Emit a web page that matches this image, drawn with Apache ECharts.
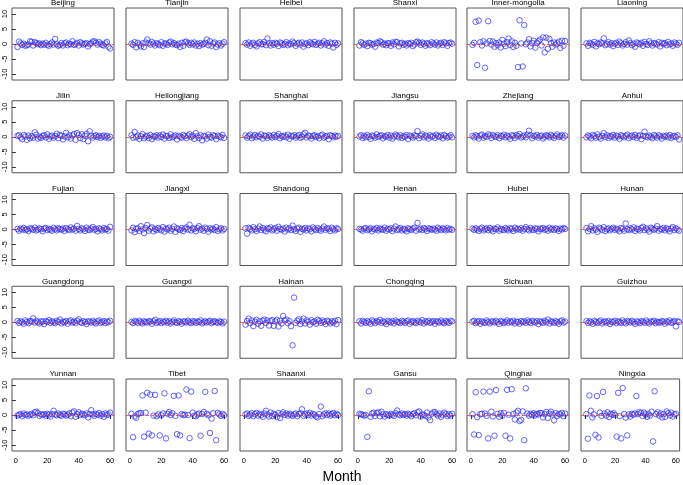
<!DOCTYPE html>
<html><head><meta charset="utf-8">
<script src="https://cdn.jsdelivr.net/npm/echarts@6/dist/echarts.min.js"></script>
<style>html,body{margin:0;padding:0;background:#fff}#c{width:683px;height:485px}</style>
</head><body><div id="c"></div>
<script>
var provinces = ["Beijing","Tianjin","Heibei","Shanxi","Inner-mongolia","Liaoning",
"Jilin","Heilongjiang","Shanghai","Jiangsu","Zhejiang","Anhui",
"Fujian","Jiangxi","Shandong","Henan","Hubei","Hunan",
"Guangdong","Guangxi","Hainan","Chongqing","Sichuan","Guizhou",
"Yunnan","Tibet","Shaanxi","Gansu","Qinghai","Ningxia"];
var xTicks = [0,20,40,60];
var yTicks = [-10,-5,0,5,10];

var beijing = [-1.0,0.8,0.2,-0.3,0.1,-0.6,-0.4,-0.2,0.9,0.7,-0.5,0.6,0.3,-0.1,0.2,-0.4,0.1,-0.2,0.4,-0.3,-0.6,0.0,0.5,-0.2,1.7,-0.1,-0.6,-0.3,0.3,-0.5,0.2,0.5,-0.4,0.1,-0.1,0.9,-0.3,0.0,0.4,-0.5,0.6,0.2,-0.2,0.1,0.3,-0.8,0.0,0.2,0.8,0.9,0.4,-0.2,0.6,0.1,-0.3,-0.5,0.2,0.7,-0.9,-1.5];
var tianjin = [0.1,-0.3,0.6,-1.1,0.4,-0.2,-0.8,0.2,-1.0,0.5,1.5,0.3,-0.2,0.7,0.1,-0.5,0.3,0.0,-0.4,0.6,-0.6,0.2,0.1,-0.3,0.5,0.8,-0.1,0.3,-0.2,-0.4,0.1,-1.0,0.4,-0.6,0.6,0.8,0.2,-0.3,0.4,-0.1,0.5,-0.5,0.1,-0.7,0.3,-0.2,0.0,0.4,1.5,-0.4,0.9,-0.6,0.2,0.5,-1.0,-0.2,0.3,-0.5,0.1,0.6];
var heibei = [0.3,-0.2,0.5,-0.6,0.1,0.4,-0.3,-0.8,0.2,0.6,-0.1,0.0,0.7,-0.4,1.8,0.2,-0.5,0.3,-0.2,0.4,0.1,-0.7,0.5,0.2,-0.3,0.0,0.6,-0.4,0.2,-0.1,0.8,0.3,-0.6,0.1,0.4,-0.2,0.5,-0.9,0.0,0.3,-0.4,0.6,0.2,-0.1,0.7,-0.3,0.1,0.4,-0.5,0.2,0.9,-0.2,0.3,-0.6,0.5,0.1,-1.2,0.4,-0.3,0.2];
var shanxi = [-0.5,0.6,0.2,-0.3,0.1,-0.7,0.4,0.3,-0.2,0.0,-0.9,0.5,0.3,0.9,0.6,-0.2,0.1,-0.4,0.3,0.2,-0.6,0.5,-0.1,0.7,0.6,-0.8,0.2,0.4,-0.3,0.1,-0.5,0.3,0.0,0.4,-0.7,-0.2,0.6,0.8,0.4,-0.3,0.5,0.1,-0.6,0.3,0.0,-0.4,0.6,0.2,-0.2,0.5,-0.5,0.1,0.4,-0.3,0.6,0.2,-0.6,0.3,0.5,0.1];
var innerMongolia = [-0.3,0.4,7.4,-7.0,7.8,0.6,-0.5,0.9,-7.9,0.2,7.6,1.0,-0.2,0.8,-0.9,0.3,-0.4,0.5,-1.2,1.4,0.1,-0.7,0.6,1.8,-0.3,0.9,-1.0,0.4,-0.6,-7.7,7.9,0.2,-7.5,6.3,-0.1,0.5,1.6,-0.8,0.3,1.1,-1.2,0.4,0.9,1.5,-0.5,2.2,-2.8,2.1,-1.6,1.7,0.3,-0.9,0.5,-0.2,0.2,0.8,-1.3,1.1,-0.6,1.0];
var liaoning = [0.2,-0.6,0.4,0.1,-0.3,0.7,-0.8,0.3,-0.1,0.5,0.2,1.9,-0.4,0.0,0.6,-0.2,0.3,-0.7,0.1,0.4,-0.3,0.8,0.2,-0.5,0.0,0.6,-0.2,1.2,0.3,-0.4,0.1,-0.9,0.5,0.2,-0.1,0.4,-0.6,0.7,0.0,-0.3,0.9,0.2,-0.5,0.3,0.1,-0.2,0.6,-0.8,0.4,0.0,0.3,-0.4,0.7,-0.1,0.2,-0.6,0.5,0.1,-0.3,0.4];
var jilin = [0.3,0.5,-0.2,-0.8,0.6,0.1,-1.0,0.4,-0.5,0.2,-0.3,1.5,0.7,-0.6,0.0,-0.4,0.3,0.5,-0.2,0.8,-0.7,0.1,0.4,-0.3,0.2,1.0,-0.5,0.6,0.3,-0.9,0.1,1.3,-0.2,0.5,-0.6,0.4,0.9,-1.0,1.2,0.6,-0.4,0.8,-0.8,0.3,1.0,-1.5,1.8,0.4,-0.3,0.2,0.5,-0.1,0.3,-0.4,0.1,0.4,-0.2,0.3,-0.5,0.0];
var heilongjiang = [0.5,-0.3,1.6,-0.2,0.4,-0.7,0.2,0.9,-0.5,0.1,0.3,-0.4,0.6,-0.8,0.2,0.0,0.5,-0.3,0.4,-0.1,0.7,-0.6,0.3,0.2,-0.4,0.8,-0.2,0.1,0.5,-0.9,0.3,0.0,-0.3,0.6,0.2,-0.5,0.4,0.9,-0.1,0.3,-0.7,1.2,0.2,-0.4,0.5,-1.2,0.3,0.1,-0.6,0.7,0.0,-0.3,0.5,0.2,-0.8,0.4,0.1,-0.2,0.6,-0.4];
var shanghai = [0.4,-0.3,0.2,0.7,-0.5,0.1,0.6,-0.2,0.3,0.0,0.8,-0.6,0.4,0.2,-0.4,0.5,0.1,-0.3,0.6,-0.1,0.3,0.9,-0.5,0.2,0.0,0.4,-0.2,0.7,-0.7,0.3,0.1,0.5,-0.3,0.2,0.6,-0.4,0.0,0.8,1.3,-0.2,0.4,0.2,-0.6,0.3,0.5,-0.1,0.2,-0.5,0.4,0.7,-0.3,0.1,0.3,-0.8,0.5,0.2,-0.2,0.4,0.0,0.3];
var jiangsu = [0.1,0.5,-0.4,0.3,-0.2,0.6,0.0,-0.7,0.4,0.2,-0.3,0.8,-0.1,0.3,0.5,-0.5,0.2,0.0,0.6,-0.3,0.4,-0.6,0.1,0.7,0.3,-0.2,0.5,-0.4,0.2,0.0,0.6,-0.8,0.4,0.1,-0.3,0.5,0.2,1.9,-0.5,0.3,0.8,-0.2,0.4,0.1,-0.6,0.5,0.0,0.3,-0.4,0.7,0.2,-0.1,0.4,-0.5,0.6,0.2,-0.3,0.1,0.5,-0.2];
var zhejiang = [0.3,-0.2,0.5,0.1,-0.6,0.4,0.7,-0.3,0.2,0.0,0.8,0.4,-0.4,0.6,0.2,-0.1,0.5,-0.5,0.3,0.1,0.7,-0.2,0.4,0.0,-0.7,0.5,0.3,-0.4,0.6,0.2,0.9,-0.3,0.1,0.4,-0.2,0.7,2.0,0.5,-0.5,0.3,0.1,0.6,-0.3,0.2,0.4,-0.6,0.0,0.5,0.3,-0.2,0.6,0.1,-0.4,0.3,0.8,-0.1,0.2,0.5,-0.3,0.4];
var anhui = [-0.2,0.4,0.1,-0.5,0.6,0.2,-0.3,0.8,0.0,-0.6,0.3,1.2,-0.1,0.5,-0.4,0.2,0.0,0.6,-0.3,0.4,0.1,-0.7,0.5,0.2,-0.2,0.3,0.7,-0.5,0.1,0.4,-0.1,0.6,-0.4,0.2,0.5,-0.8,0.3,1.7,0.1,-0.2,0.4,0.0,-0.5,0.6,0.2,-0.3,0.5,0.1,-0.6,0.3,0.0,0.4,-0.2,0.6,-0.4,0.1,0.3,-0.1,0.5,-0.9];
var fujian = [0.2,-0.4,0.3,0.0,0.5,-0.2,0.1,-0.5,0.4,0.2,-0.1,0.6,-0.3,0.0,0.4,0.1,-0.6,0.3,0.5,-0.2,0.2,0.0,-0.4,0.6,0.1,-0.3,0.4,0.2,-0.1,0.3,-0.5,0.5,0.1,-0.2,0.7,0.0,0.3,-0.4,1.2,0.2,-0.3,0.4,0.1,-0.5,0.6,0.0,-0.2,0.3,0.8,-0.1,0.2,-0.6,0.4,0.1,-0.3,0.5,0.0,0.2,-0.4,0.9];
var jiangxi = [-0.3,0.6,-0.9,0.2,0.4,-0.5,1.1,0.0,-1.2,0.5,1.5,-0.4,0.3,0.7,-0.6,0.2,-0.2,0.5,0.1,-0.3,0.8,-0.7,0.3,0.0,0.6,-0.4,0.2,1.0,-0.8,0.4,0.1,-0.2,0.5,-0.5,0.3,0.7,0.0,1.6,-0.3,0.4,0.2,-0.6,0.5,1.1,-0.1,0.3,-0.4,0.6,0.2,-0.7,0.4,0.0,0.3,-0.2,0.8,-0.5,0.1,0.4,-0.3,0.2];
var shandong = [0.4,-1.4,0.6,0.2,-0.3,0.8,0.1,-0.5,0.3,1.0,-0.2,0.5,0.0,-0.6,0.4,0.2,0.7,-0.3,0.1,0.5,-0.4,0.9,0.2,-0.1,0.3,-0.7,0.6,0.0,0.4,-0.2,1.3,0.1,-0.5,0.3,0.6,-0.8,0.2,0.0,0.5,-0.3,0.4,0.1,-0.6,0.7,0.2,-0.2,0.5,0.0,-0.4,0.3,1.0,-0.1,0.4,0.2,-0.5,0.6,0.1,-0.3,0.4,0.2];
var henan = [0.2,0.0,-0.4,0.3,0.5,-0.2,0.1,0.4,-0.6,0.2,0.0,0.5,-0.3,0.3,0.1,-0.1,0.6,-0.4,0.2,0.0,0.4,-0.5,0.3,1.0,-0.2,0.1,0.5,-0.3,0.2,0.0,-0.6,0.4,0.1,-0.2,0.3,0.6,-0.4,2.2,0.0,0.3,-0.2,0.5,0.1,-0.5,0.4,0.2,-0.1,0.3,0.0,-0.4,0.6,0.2,-0.2,0.4,0.1,-0.3,0.5,0.0,0.2,-0.1];
var hubei = [0.3,-0.1,0.4,0.0,-0.5,0.2,0.6,-0.3,0.1,0.4,-0.2,0.5,0.0,-0.6,0.3,0.1,0.7,-0.4,0.2,0.0,-0.2,0.5,0.1,-0.3,0.4,0.2,-0.5,0.6,0.0,0.3,-0.1,0.4,-0.4,0.2,0.8,0.1,-0.3,0.5,0.0,-0.2,0.4,0.2,-0.6,0.3,0.1,0.5,-0.1,0.2,-0.4,0.6,0.0,0.3,-0.2,0.4,0.1,-0.5,0.3,0.0,0.5,0.2];
var hunan = [0.5,-0.6,0.2,1.1,-0.3,0.4,0.0,-0.8,0.6,0.3,-0.2,0.8,-0.5,0.1,0.4,-0.3,0.2,0.6,-0.1,0.3,0.0,-0.6,0.5,0.2,-0.4,2.0,0.1,-0.2,0.4,0.0,0.7,-0.5,0.3,0.1,-0.3,0.5,0.9,-0.2,0.4,0.0,-0.7,0.6,0.2,-0.1,0.3,1.1,-0.4,0.2,0.0,0.5,-0.3,0.4,0.1,-0.6,0.3,0.8,-0.2,0.4,0.0,-0.4];
var guangdong = [0.4,-0.2,0.3,0.0,-0.5,0.6,0.1,-0.3,0.4,0.2,1.3,-0.1,0.5,0.0,-0.4,0.3,0.2,-0.6,0.4,0.1,0.7,-0.2,0.3,0.0,-0.3,0.5,0.1,0.9,-0.4,0.2,0.0,0.4,-0.5,0.3,0.6,-0.1,0.2,-0.3,0.5,1.0,0.0,-0.2,0.4,0.1,-0.6,0.3,0.2,-0.1,0.5,0.0,-0.4,0.3,0.6,-0.2,0.1,0.4,-0.3,0.2,0.0,0.5];
var guangxi = [0.1,-0.3,0.4,0.2,-0.2,0.5,0.0,-0.4,0.3,0.1,-0.1,0.4,0.2,-0.5,0.3,0.8,-0.2,0.1,0.4,-0.3,0.2,0.0,0.5,-0.1,0.3,-0.4,0.1,0.6,0.0,-0.2,0.4,0.1,-0.5,0.3,0.2,-0.1,0.5,0.0,-0.3,0.4,0.2,-0.2,0.3,0.1,0.6,-0.4,0.0,0.3,-0.1,0.2,0.5,-0.3,0.1,0.4,0.0,-0.2,0.3,0.1,-0.4,0.2];
var hainan = [-0.8,0.4,1.2,-0.3,0.6,-1.3,0.2,0.8,-0.5,0.3,-1.2,0.5,0.9,-0.2,0.6,-1.1,0.4,0.7,-1.2,0.3,0.8,-1.4,0.5,-0.4,2.1,0.6,0.9,-0.3,0.4,-1.3,-7.7,8.2,-0.2,0.5,1.0,-0.6,0.3,1.2,-0.4,0.6,0.2,-0.8,0.7,0.0,0.3,-0.5,0.8,0.4,-0.2,0.6,0.1,-0.6,0.5,0.2,-0.4,0.3,-0.1,0.5,-0.6,0.7];
var chongqing = [0.3,-0.4,0.5,0.1,-0.2,0.4,0.0,-0.5,0.6,0.2,-0.3,0.4,0.1,0.8,-0.2,0.3,0.0,-0.6,0.5,0.2,-0.1,0.4,-0.4,0.6,0.1,0.0,-0.3,0.5,0.2,-0.2,0.3,0.6,-0.5,0.1,0.4,0.0,-0.3,0.5,0.2,-0.1,0.7,-0.4,0.3,0.0,0.5,-0.2,0.1,0.4,-0.5,0.3,0.2,-0.1,0.6,0.0,-0.3,0.4,0.1,-0.2,0.5,0.3];
var sichuan = [0.2,0.5,-0.3,0.1,0.4,-0.5,0.3,0.0,-0.2,0.6,0.1,-0.4,0.3,0.2,-0.1,0.5,0.0,-0.6,0.4,0.2,-0.3,0.1,0.6,-0.2,0.3,0.0,0.5,-0.4,0.2,0.1,-0.5,0.4,0.0,0.3,-0.2,0.6,0.1,-0.3,0.5,0.2,-0.1,0.4,-0.6,0.3,0.1,-0.2,0.5,0.0,0.9,-0.4,0.3,0.1,-0.2,0.4,0.0,-0.5,0.3,0.6,-0.1,0.2];
var guizhou = [0.4,-0.2,0.3,0.0,-0.5,0.5,0.1,-0.3,0.2,0.6,-0.4,0.1,0.3,-0.1,0.4,-0.6,0.2,0.0,0.5,-0.3,0.3,0.1,-0.2,0.6,0.0,-0.4,0.4,0.2,-0.1,0.5,0.0,-0.5,0.3,0.1,-0.3,0.4,0.2,-0.2,0.6,0.0,-0.4,0.3,0.1,0.5,-0.3,0.2,0.0,-0.1,0.4,0.2,-0.5,0.3,0.0,0.6,-0.2,0.1,0.4,-1.4,0.3,0.1];
var yunnan = [-0.2,0.1,0.3,-0.4,0.5,0.0,0.2,-0.3,0.1,0.4,-0.1,0.9,1.1,0.6,-0.3,0.2,0.0,0.3,-0.2,0.4,0.1,-0.5,0.3,1.4,0.2,-0.1,0.5,0.0,-0.3,0.4,0.2,-0.2,0.1,0.5,-0.4,0.8,1.2,-0.6,0.3,0.9,0.0,0.4,0.2,-0.1,0.5,-0.8,0.3,1.6,0.2,-0.3,0.4,0.1,0.6,-0.2,0.3,-0.6,0.5,0.0,0.2,0.8];
var tibet = [0.4,-7.4,-0.5,-0.9,0.3,0.6,0.7,6.5,-7.2,0.8,7.4,-6.2,6.8,-6.8,-0.2,6.7,-0.4,0.2,-6.8,-0.1,0.5,7.2,-7.8,0.4,1.0,0.0,0.6,6.4,-0.3,-6.4,6.5,-6.8,0.3,0.0,0.1,8.5,0.0,-7.7,7.8,0.8,-0.2,-0.4,0.2,0.5,-6.9,0.3,1.0,7.7,0.4,-0.1,-6.0,-1.2,0.6,8.0,-8.4,0.7,0.2,-0.3,0.4,-0.1];
var shaanxi = [0.2,0.5,-0.3,0.1,0.6,-0.4,0.3,0.7,-0.2,0.4,0.0,-0.6,0.5,1.4,0.2,-0.5,0.8,-0.3,0.4,0.1,-0.7,0.6,-1.0,0.3,0.9,0.0,0.5,-0.2,0.4,0.1,-0.3,0.2,0.5,-0.4,0.3,0.6,1.9,-0.3,0.2,0.5,0.0,0.7,-0.2,0.4,0.1,-0.5,-0.8,0.3,2.8,-0.4,0.2,0.6,0.0,0.5,-0.2,0.3,0.7,-0.1,0.4,0.0];
var gansu = [0.4,0.2,0.1,-0.2,0.0,-7.3,7.9,-0.6,0.5,0.8,-0.3,0.6,0.9,-0.4,1.1,0.2,-0.5,0.3,0.0,-0.2,0.4,0.1,-0.3,0.6,1.5,0.2,-0.1,0.5,0.0,0.3,-0.2,0.4,0.1,-0.4,0.3,0.6,-0.1,0.9,1.2,-0.5,0.2,0.0,-0.3,0.8,-0.8,-1.7,0.4,0.9,1.0,0.3,-0.2,0.5,-0.6,0.1,0.8,0.3,-0.4,0.2,-0.2,0.4];
var qinghai = [0.3,-6.5,7.6,-0.7,-6.7,0.3,0.4,7.8,0.5,-0.3,-7.8,7.8,1.1,-0.5,-6.9,8.3,0.4,-0.6,0.6,-0.2,0.7,-6.9,8.4,0.1,-7.8,8.6,0.3,-1.5,0.8,1.4,-2.0,-1.6,1.2,-8.4,8.9,0.5,-0.2,0.4,0.0,0.6,-0.1,0.4,0.2,0.7,0.6,-0.8,0.3,1.0,-1.0,0.5,1.1,0.2,-1.8,0.6,-0.3,0.4,0.2,0.7,-0.4,0.5];
var ningxia = [0.3,-7.9,6.5,1.4,-0.8,0.2,-6.6,6.3,-7.5,0.8,-0.3,7.7,0.5,-0.2,0.9,-0.7,0.4,0.1,0.6,0.0,-7.2,7.4,-0.4,-7.8,9.0,0.3,-0.9,-6.8,0.2,-0.5,0.4,0.1,0.5,6.3,0.3,1.0,0.7,-0.3,0.8,0.2,-0.6,0.4,-0.2,1.1,-8.8,7.9,0.3,0.9,-0.2,0.5,-0.8,0.3,-0.6,1.2,0.6,-0.1,0.8,-0.5,0.2,0.4];

var panels = [beijing,tianjin,heibei,shanxi,innerMongolia,liaoning,
  jilin,heilongjiang,shanghai,jiangsu,zhejiang,anhui,
  fujian,jiangxi,shandong,henan,hubei,hunan,
  guangdong,guangxi,hainan,chongqing,sichuan,guizhou,
  yunnan,tibet,shaanxi,gansu,qinghai,ningxia];

var colLeft = [12,126,240,354,467,581];
var rowTop0 = 8, rowStep = 92.75, boxW = 102, boxH = 72;
var FONT = 'Liberation Sans, Arial, sans-serif';

var grids=[], xAxes=[], yAxes=[], series=[], graphics=[], bad=[];
panels.forEach(function(vals, i){
  if (vals.length !== 60) bad.push(provinces[i]+':'+vals.length);
  var r = Math.floor(i/6), c = i%6;
  var top = rowTop0 + r*rowStep, left = colLeft[c];
  grids.push({left:left, top:top, width:boxW, height:boxH, show:true,
    borderColor:'#555', borderWidth:1, backgroundColor:'transparent', containLabel:false});
  var bottomRow = (r===4), leftCol = (c===0);
  xAxes.push({type:'value', gridIndex:i, min:-2.5, max:62.5,
    splitLine:{show:false}, axisLine:{show:false},
    axisTick:{show:bottomRow, customValues:xTicks, length:4, lineStyle:{color:'#333', width:1}},
    axisLabel:{show:bottomRow, customValues:xTicks, fontSize:7.5, color:'#000', margin:6, fontFamily:FONT}});
  yAxes.push({type:'value', gridIndex:i, min:-12, max:12,
    splitLine:{show:false}, axisLine:{show:false},
    axisTick:{show:leftCol, customValues:yTicks, length:4, lineStyle:{color:'#333', width:1}},
    axisLabel:{show:leftCol, customValues:yTicks, fontSize:7.5, color:'#000', rotate:90, margin:3, fontFamily:FONT}});
  series.push({type:'scatter', xAxisIndex:i, yAxisIndex:i,
    data: vals.map(function(v,k){return [k+1, v];}),
    symbol:'circle', symbolSize:5.5, silent:true,
    itemStyle:{color:'rgba(0,0,0,0)', borderColor:'#2a2aff', borderWidth:0.9},
    markLine:{silent:true, symbol:'none', label:{show:false},
      lineStyle:{color:'#e04040', type:[3,2], width:0.8}, data:[{yAxis:0}]}});
  graphics.push({type:'text', x:left+boxW/2, y:top-4.8,
    style:{text:provinces[i], fill:'#000', font:'8px '+FONT, textAlign:'center', textVerticalAlign:'middle'}});
});
graphics.push({type:'text', x:342, y:477,
  style:{text:'Month', fill:'#000', font:'14px '+FONT, textAlign:'center', textVerticalAlign:'middle'}});
if (bad.length) graphics.push({type:'text', x:340, y:240, z:100,
  style:{text:'LEN: '+bad.join(' '), fill:'red', font:'bold 20px sans-serif', textAlign:'center'}});

var chart = echarts.init(document.getElementById('c'), null, {renderer:'canvas'});
chart.setOption({animation:false, backgroundColor:'#fff',
  grid:grids, xAxis:xAxes, yAxis:yAxes, series:series, graphic:graphics});
</script></body></html>
